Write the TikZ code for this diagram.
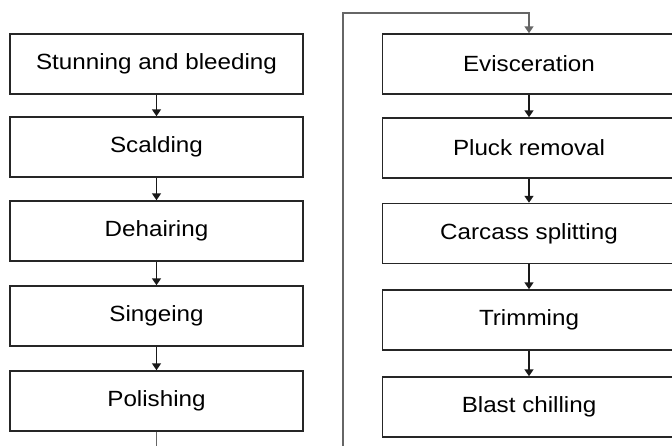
\documentclass[tikz,border=0pt]{standalone}
\usepackage{fontspec}
\setmainfont{Liberation Sans}[FakeStretch=1.1]
\usetikzlibrary{arrows.meta}

\begin{document}
\begin{tikzpicture}
  [x=1pt,y=-1pt,
   every node/.style={draw=black!85,line width=1.5pt,rectangle,minimum width=293pt,minimum height=60pt,inner sep=0pt,font=\fontsize{22}{26}\selectfont},
   flow/.style={draw=black!90,line width=1.6pt,-{Triangle[width=9pt,length=7pt]}}]
  \useasboundingbox (0,0) rectangle (672,445);

  \node (s1) at (156.5,64) {Stunning and bleeding};
  \node (s2) at (156.5,147) {Scalding};
  \node (s3) at (156.5,231) {Dehairing};
  \node (s4) at (156.5,316) {Singeing};
  \node (s5) at (156.5,401) {Polishing};

  \node (e1) at (529,64) {Evisceration};
  \node (e2) at (529,148) {Pluck removal};
  \node (e3) at (529,233.5) {Carcass splitting};
  \node (e4) at (529,320) {Trimming};
  \node (e5) at (529,407) {Blast chilling};

  \draw[flow] (s1) -- (s2);
  \draw[flow] (s2) -- (s3);
  \draw[flow] (s3) -- (s4);
  \draw[flow] (s4) -- (s5);

  \draw[flow,draw=black!60] (s5.south) -- (156.5,470) -| (343,13) -| (e1.north);

  \draw[flow] (e1) -- (e2);
  \draw[flow] (e2) -- (e3);
  \draw[flow] (e3) -- (e4);
  \draw[flow] (e4) -- (e5);
\end{tikzpicture}
\end{document}
